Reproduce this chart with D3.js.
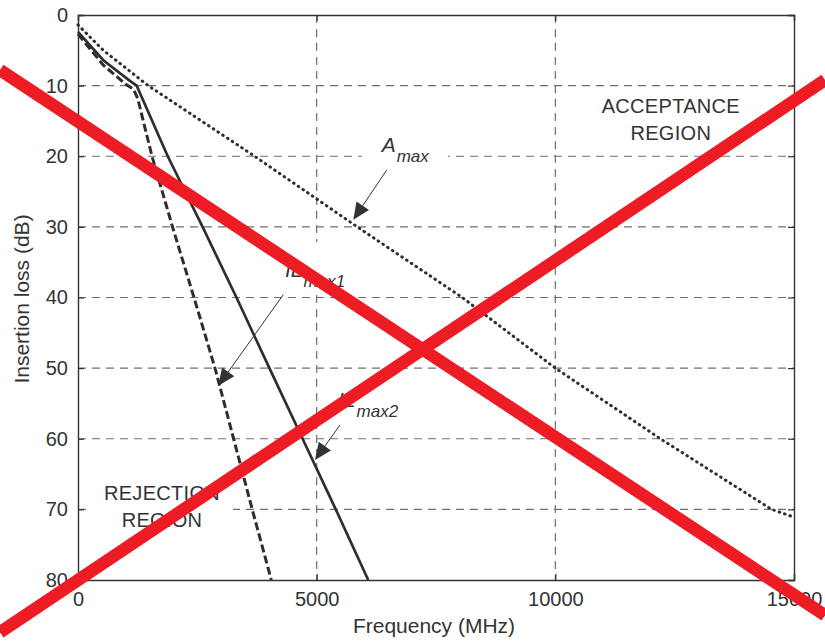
<!DOCTYPE html>
<html>
<head>
<meta charset="utf-8">
<script src="https://cdn.jsdelivr.net/npm/d3@7"></script>
<style>
  html, body { margin: 0; padding: 0; background: #fff; }
  svg { display: block; }
  text { font-family: "Liberation Sans", Arial, Helvetica, sans-serif; fill: #333; }
</style>
</head>
<body>
<svg id="chart" width="825" height="642"></svg>
<script>
// ---- data ----
const xTicks = [0, 5000, 10000, 15000];
const yTicks = [0, 10, 20, 30, 40, 50, 60, 70, 80];

const freqAmax = [0, 530, 1470, 3700, 5850, 8050, 10000, 12200, 14530, 15000];
const lossAmax = [1.4, 5.0, 10, 20, 30, 40, 50, 60, 70, 71.1];

const freqIL1 = [0, 530, 1000, 1160, 1250, 1550, 1980, 2430, 2870, 3260, 3650, 4050];
const lossIL1 = [2.7, 7.1, 9.8, 10.5, 11.8, 20, 30, 40, 50, 60, 70, 80];

const freqIL2 = [0, 530, 1080, 1230, 1320, 1880, 2610, 3320, 4010, 4705, 5400, 6080];
const lossIL2 = [2.4, 6.4, 9.3, 10.0, 11.4, 20, 30, 40, 50, 60, 70, 80];

// annotations (data coordinates): label anchor, arrow tail, arrow tip
const annotLabels = ["A", "IL", "IL"];
const annotSubs = ["max", "max1", "max2"];
const annotLabelF = [6362, 4337, 5447];
const annotLabelD = [19.4, 37.05, 55.5];
const annotTailF = [6467, 4301, 5489];
const annotTailD = [21.95, 39.6, 58.05];
const annotTipF = [5767, 2939, 4965];
const annotTipD = [29.0, 52.5, 63.0];

// region labels
const regionLines = [["ACCEPTANCE", "REGION"], ["REJECTION", "REGION"]];
const regionF = [12420, 1760];
const regionD = [13.9, 68.7];

// crossing red lines (data coordinates, extend beyond axes)
const crossF = [[-1634, 15650], [-1634, 15650]];
const crossD = [[7.8, 85.0], [87.4, 9.2]];

// ---- layout ----
const svg = d3.select("#chart");
const mLeft = 78, mRight = 794, mTop = 15, mBottom = 580;
const x = d3.scaleLinear().domain([0, 15000]).range([mLeft, mRight]);
const y = d3.scaleLinear().domain([0, 80]).range([mTop, mBottom]);

// grid
const grid = svg.append("g");
grid.selectAll(".gx").data(xTicks.filter(t => t > 0 && t < 15000)).enter().append("line")
  .attr("x1", d => x(d)).attr("x2", d => x(d)).attr("y1", mTop).attr("y2", mBottom)
  .attr("stroke", "#6f6f6f").attr("stroke-width", 1.2).attr("stroke-dasharray", "8,6");
grid.selectAll(".gy").data(yTicks.filter(t => t > 0 && t < 80)).enter().append("line")
  .attr("x1", mLeft).attr("x2", mRight).attr("y1", d => y(d)).attr("y2", d => y(d))
  .attr("stroke", "#6f6f6f").attr("stroke-width", 1.2).attr("stroke-dasharray", "8,6");

// white boxes behind labels (cut gridlines as in reference)
svg.append("rect").attr("x", 362).attr("y", 128).attr("width", 86).attr("height", 40).attr("fill", "#fff");
svg.append("rect").attr("x", 86).attr("y", 483).attr("width", 147).attr("height", 54).attr("fill", "#fff");
svg.append("rect").attr("x", 282).attr("y", 242).attr("width", 68).attr("height", 52).attr("fill", "#fff");

// axes
const axB = svg.append("g").attr("transform", `translate(0,${mBottom})`)
  .call(d3.axisBottom(x).tickValues(xTicks).tickSize(-6).tickPadding(12).tickFormat(d3.format("d")));
const axT = svg.append("g").attr("transform", `translate(0,${mTop})`)
  .call(d3.axisTop(x).tickValues(xTicks).tickSize(-6).tickFormat(""));
const axL = svg.append("g").attr("transform", `translate(${mLeft},0)`)
  .call(d3.axisLeft(y).tickValues(yTicks).tickSize(-6).tickPadding(10).tickFormat(d3.format("d")));
const axR = svg.append("g").attr("transform", `translate(${mRight},0)`)
  .call(d3.axisRight(y).tickValues(yTicks).tickSize(-6).tickFormat(""));
[axB, axT, axL, axR].forEach(a => {
  a.select(".domain").attr("stroke", "#333").attr("stroke-width", 1.4);
  a.selectAll(".tick line").attr("stroke", "#333").attr("stroke-width", 1.2);
  a.selectAll("text").attr("font-size", 20).attr("fill", "#333")
    .style("font-family", '"Liberation Sans", Arial, sans-serif');
});
axB.selectAll("text").attr("dy", "0.71em");

// axis titles
svg.append("text").attr("x", 434).attr("y", 633).attr("text-anchor", "middle")
  .attr("font-size", 21).text("Frequency (MHz)");
svg.append("text").attr("transform", "translate(29,299) rotate(-90)").attr("text-anchor", "middle")
  .attr("font-size", 21).text("Insertion loss (dB)");

// curves
const line = d3.line().x(d => x(d[0])).y(d => y(d[1]));
const zip = (a, b) => a.map((v, i) => [v, b[i]]);
svg.append("path").datum(zip(freqAmax, lossAmax)).attr("d", line)
  .attr("fill", "none").attr("stroke", "#2e2e2e").attr("stroke-width", 3)
  .attr("stroke-linecap", "round").attr("stroke-dasharray", "0.6,5.1");
svg.append("path").datum(zip(freqIL1, lossIL1)).attr("d", line)
  .attr("fill", "none").attr("stroke", "#2e2e2e").attr("stroke-width", 3)
  .attr("stroke-dasharray", "8,3.5");
svg.append("path").datum(zip(freqIL2, lossIL2)).attr("d", line)
  .attr("fill", "none").attr("stroke", "#2e2e2e").attr("stroke-width", 2.7);

// region labels
regionLines.forEach((lines, i) => {
  const t = svg.append("text").attr("text-anchor", "middle").attr("font-size", 20)
    .attr("letter-spacing", 0.3);
  lines.forEach((s, j) => {
    t.append("tspan").attr("x", x(regionF[i])).attr("y", y(regionD[i]) + j * 27).text(s);
  });
});

// annotations
annotLabels.forEach((lab, i) => {
  const t = svg.append("text").attr("x", x(annotLabelF[i])).attr("y", y(annotLabelD[i]))
    .attr("font-size", 21).attr("font-style", "italic");
  t.append("tspan").text(lab);
  t.append("tspan").attr("dy", 10).attr("dx", 1).attr("font-size", 17).text(annotSubs[i]);

  const x0 = x(annotTailF[i]), y0 = y(annotTailD[i]);
  const x1 = x(annotTipF[i]), y1 = y(annotTipD[i]);
  const ang = Math.atan2(y1 - y0, x1 - x0);
  const L = 17, W = 7.5;
  const bx = x1 - L * Math.cos(ang), by = y1 - L * Math.sin(ang);
  svg.append("line").attr("x1", x0).attr("y1", y0).attr("x2", bx).attr("y2", by)
    .attr("stroke", "#333").attr("stroke-width", 1);
  const px = -Math.sin(ang), py = Math.cos(ang);
  svg.append("path")
    .attr("d", `M${x1},${y1}L${bx + px * W},${by + py * W}L${bx - px * W},${by - py * W}Z`)
    .attr("fill", "#333");
});

// red cross
crossF.forEach((fs, i) => {
  svg.append("line")
    .attr("x1", x(fs[0])).attr("y1", y(crossD[i][0]))
    .attr("x2", x(fs[1])).attr("y2", y(crossD[i][1]))
    .attr("stroke", "#ED1C24").attr("stroke-width", 12.5);
});
</script>
</body>
</html>
